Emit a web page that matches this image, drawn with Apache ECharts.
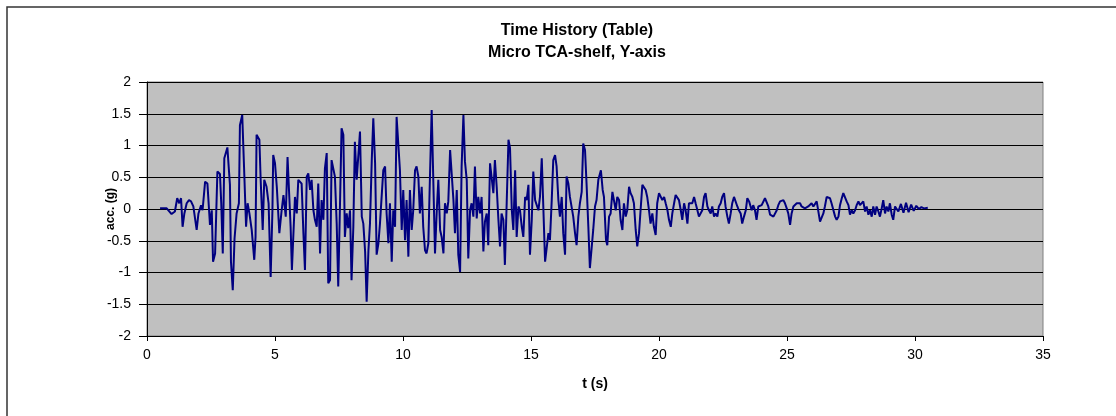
<!DOCTYPE html>
<html>
<head>
<meta charset="utf-8">
<script src="https://cdn.jsdelivr.net/npm/echarts@6/dist/echarts.min.js"></script>
<style>
html,body{margin:0;padding:0;background:#fff;}
#chart{width:1116px;height:416px;}
</style>
</head>
<body>
<div id="chart"></div>
<script>
var titleLines = ["Time History (Table)", "Micro TCA-shelf, Y-axis"];
var xAxisName = "t (s)";
var yAxisName = "acc. (g)";

var times = [
0.51,0.77,0.96,1.09,1.18,1.26,1.33,1.39,1.46,1.55,1.64,1.72,1.81,1.88,1.94,2.01,2.11,2.17,2.27,2.36,
2.46,2.53,2.58,2.66,2.75,2.85,2.90,2.96,3.02,3.14,3.19,3.24,3.28,3.35,3.42,3.50,3.59,3.63,3.72,3.79,
3.87,3.93,4.00,4.09,4.19,4.24,4.28,4.39,4.44,4.52,4.58,4.67,4.75,4.83,4.90,4.93,5.00,5.07,5.17,5.26,
5.33,5.42,5.49,5.55,5.61,5.66,
5.78,5.85,5.91,6.04,6.11,6.17,6.24,6.30,6.37,6.43,6.50,6.56,6.63,6.69,6.76,6.82,6.89,6.95,7.02,7.08,
7.15,7.21,7.28,7.34,7.41,7.47,7.54,7.60,7.67,7.73,7.80,7.86,7.93,7.99,8.06,8.12,8.19,8.26,8.32,8.39,
8.45,8.52,8.58,8.65,8.71,8.78,8.84,8.91,8.97,9.04,9.10,9.23,9.30,9.36,9.43,9.49,9.56,9.62,9.69,9.75,
9.82,9.88,9.95,10.01,10.08,10.14,10.21,10.27,10.34,10.40,10.47,10.53,10.60,10.66,10.73,10.79,10.86,10.92,10.99,11.05,
11.12,11.19,11.25,11.32,11.38,11.45,11.51,11.58,11.64,11.71,11.77,
11.84,11.90,11.97,12.03,12.10,12.16,12.23,12.29,12.36,12.42,12.49,12.55,12.62,12.68,12.75,12.81,12.88,12.94,13.01,13.07,
13.14,13.20,13.27,13.33,13.40,13.46,13.53,13.59,13.66,13.72,13.79,13.85,13.92,13.98,14.05,14.12,14.18,14.25,14.31,14.38,
14.44,14.51,14.57,14.64,14.70,14.77,14.83,14.90,14.96,15.03,15.09,15.16,15.22,15.29,15.35,15.42,15.48,15.55,15.61,15.68,
15.74,15.81,15.87,15.94,16.00,16.07,16.13,16.20,16.26,16.33,16.39,16.46,16.52,16.59,16.65,16.72,16.78,16.85,16.91,16.98,
17.04,17.11,17.17,17.24,17.30,17.37,17.43,17.50,17.56,17.63,
17.73,17.80,17.85,17.93,17.98,18.05,18.11,18.18,18.24,18.31,18.37,18.44,18.50,18.57,18.63,18.70,18.76,18.83,18.89,18.96,
19.02,19.09,19.15,19.22,19.28,19.35,19.41,19.48,19.54,19.61,19.67,19.74,19.80,19.87,19.93,20.00,20.07,20.13,20.20,20.26,
20.33,20.39,20.46,20.52,20.59,20.65,20.72,20.78,20.85,20.91,20.98,21.04,21.11,21.17,21.24,21.30,21.37,21.43,21.50,21.56,
21.63,21.69,21.76,21.82,21.89,21.95,22.02,22.08,22.15,22.21,22.28,22.34,22.41,22.47,22.54,22.60,22.67,22.73,22.80,22.86,
22.93,22.99,23.06,23.12,23.19,23.25,23.32,23.39,23.45,23.52,
23.55,23.62,23.68,23.75,23.81,23.88,23.95,24.01,24.08,24.14,24.21,24.27,24.34,24.40,24.47,24.53,24.60,24.66,24.73,24.79,
24.86,24.92,24.99,25.05,25.12,25.18,25.25,25.31,25.38,25.44,25.51,25.57,25.64,25.70,25.77,25.83,25.90,25.96,26.03,26.09,
26.16,26.22,26.29,26.35,26.42,26.48,26.55,26.61,26.68,26.74,26.81,26.88,26.94,27.01,27.07,27.14,27.20,27.27,27.33,27.40,
27.46,27.53,27.59,27.66,27.72,27.79,27.85,27.92,27.98,28.05,28.11,28.18,28.24,28.31,28.37,28.44,28.50,28.57,28.63,28.70,
28.76,28.83,28.89,28.96,29.02,29.09,29.15,29.22,29.28,29.35,
29.45,29.55,29.65,29.75,29.85,29.95,30.05,30.15,30.25,30.35,30.50
];

var accel = [
0.01,0.01,-0.08,-0.04,0.17,0.09,0.17,-0.28,-0.07,0.09,0.14,0.12,0.04,0.01,-0.33,-0.07,0.06,-0.02,0.43,0.40,
-0.25,-0.02,-0.83,-0.70,0.59,0.55,0.09,-0.70,0.80,0.97,0.67,0.38,-0.83,-1.28,-0.46,-0.07,0.09,1.32,1.48,0.67,
-0.28,0.09,-0.07,-0.33,-0.80,-0.44,1.17,1.09,0.46,-0.33,0.46,0.35,0.09,-1.07,-0.02,0.85,0.72,0.35,-0.38,-0.02,
0.22,-0.12,0.82,0.85,-0.28,-0.96,
0.19,-0.07,0.46,0.40,-0.38,-0.96,0.51,0.56,0.30,0.46,-0.02,-0.17,-0.28,0.40,-0.70,0.14,-0.17,0.64,0.88,-1.17,
-1.12,0.77,0.80,0.51,-0.23,-1.22,0.09,1.27,1.17,-0.44,-0.07,-0.30,-0.02,-1.12,-0.28,1.06,0.46,0.46,1.22,-0.12,
-0.23,-0.67,-1.46,-0.65,-0.23,0.77,1.43,0.72,-0.72,-0.54,-0.23,0.61,0.67,-0.07,-0.54,0.09,-0.83,-0.02,-0.28,1.45,
1.48,0.61,-0.33,0.30,-0.49,0.14,-0.75,0.30,-0.33,-0.02,0.61,0.67,0.51,-0.07,0.35,-0.28,-0.65,-0.70,-0.54,0.46,
1.56,1.59,-0.70,-0.02,0.46,-0.33,-0.44,-0.70,0.09,-0.07,0.12,
0.93,0.93,0.14,-0.38,0.30,-0.72,-0.99,0.67,1.48,0.75,0.46,-0.78,-0.02,0.09,-0.12,0.67,-0.15,0.19,-0.07,0.19,
-0.67,-0.20,-0.07,-0.57,0.72,0.69,0.25,0.77,0.35,-0.12,-0.59,-0.07,-0.17,-0.88,0.09,1.09,0.96,-0.02,-0.33,0.61,
-0.44,0.04,-0.02,-0.28,-0.44,0.19,0.14,0.38,-0.72,-0.17,0.59,0.14,0.14,-0.02,0.19,0.80,0.77,-0.83,-0.80,-0.38,
-0.49,0.14,0.77,0.85,0.67,0.14,-0.12,0.19,-0.38,-0.72,0.51,0.40,0.19,0.19,-0.12,-0.38,-0.57,-0.12,0.09,0.27,
1.03,0.93,0.40,-0.28,-0.93,-0.96,-0.33,0.04,0.14,0.46,
0.61,0.30,0.19,-0.49,-0.57,-0.12,-0.07,0.27,0.30,-0.02,0.19,0.14,-0.17,-0.33,0.09,-0.12,-0.02,0.35,0.25,0.19,
0.09,-0.33,-0.59,-0.38,-0.02,0.38,0.35,0.30,0.19,-0.02,-0.23,-0.07,-0.28,-0.41,0.09,0.25,0.27,0.14,0.19,0.09,
-0.02,-0.17,-0.28,-0.07,0.09,0.22,0.25,0.14,-0.02,-0.17,0.09,-0.02,-0.23,0.09,0.06,0.09,0.19,0.09,-0.02,-0.12,
-0.12,-0.02,0.19,0.25,0.04,-0.02,-0.07,0.04,-0.12,-0.07,-0.12,0.04,0.09,0.19,0.25,0.04,-0.12,-0.23,-0.07,0.09,
0.19,0.22,0.04,-0.02,-0.07,-0.23,-0.12,-0.02,0.17,0.12,
0.09,-0.02,0.06,-0.02,-0.17,0.04,0.04,0.06,0.09,0.17,0.20,0.04,-0.09,-0.12,-0.12,-0.09,-0.02,0.06,0.12,0.14,
0.14,0.09,0.01,-0.07,-0.25,-0.07,0.04,0.06,0.09,0.12,0.09,0.04,0.04,0.01,-0.02,0.04,0.04,0.09,0.04,0.06,
0.12,0.12,-0.20,-0.17,-0.07,0.04,0.19,0.22,0.17,0.09,0.06,-0.12,-0.17,-0.12,0.06,0.17,0.25,0.22,0.12,0.06,
-0.09,-0.02,-0.07,-0.02,0.06,0.12,0.06,0.09,0.12,-0.04,0.04,-0.09,-0.02,-0.12,0.04,-0.09,0.04,-0.04,-0.12,0.01,
0.14,-0.07,0.04,-0.04,0.09,-0.09,-0.17,0.04,0.06,-0.04,
0.08,-0.06,0.10,-0.05,0.07,-0.03,0.05,0.00,0.03,0.01,0.02
];

var xTicks = {min: 0, max: 35, interval: 5};
var yTicks = {min: -2, max: 2, interval: 0.5};

var seriesData = times.map(function (t, i) { return [t, accel[i]]; });

var chart = echarts.init(document.getElementById('chart'), null, {renderer: 'canvas'});
var font = '"Liberation Sans", Arial, sans-serif';
chart.setOption({
  backgroundColor: '#ffffff',
  animation: false,
  graphic: [
    {type: 'rect', shape: {x: 7, y: 7, width: 1130, height: 430},
     style: {fill: 'none', stroke: '#333333', lineWidth: 1.5}, silent: true, z: -10},
    {type: 'text', x: 577, y: 31, silent: true,
     style: {text: titleLines[0], textAlign: 'center', textVerticalAlign: 'middle',
             font: 'bold 16px ' + font, fill: '#000'}},
    {type: 'text', x: 577, y: 53, silent: true,
     style: {text: titleLines[1], textAlign: 'center', textVerticalAlign: 'middle',
             font: 'bold 16px ' + font, fill: '#000'}}
  ],
  grid: {left: 147, top: 82, width: 896, height: 254, show: true, backgroundColor: '#C0C0C0',
         borderColor: '#808080', borderWidth: 1, containLabel: false},
  xAxis: {
    type: 'value', min: xTicks.min, max: xTicks.max, interval: xTicks.interval,
    name: xAxisName, nameLocation: 'middle', nameGap: 41,
    nameTextStyle: {fontFamily: font, fontWeight: 'bold', fontSize: 14, color: '#000'},
    axisLine: {show: true, onZero: false, lineStyle: {color: '#000', width: 1}},
    axisTick: {show: true, length: 5, lineStyle: {color: '#000'}},
    axisLabel: {fontFamily: font, fontSize: 14, color: '#000', margin: 12},
    splitLine: {show: false}
  },
  yAxis: {
    type: 'value', min: yTicks.min, max: yTicks.max, interval: yTicks.interval,
    name: yAxisName, nameLocation: 'middle', nameGap: 30, nameRotate: 90, nameMoveOverlap: false,
    nameTextStyle: {fontFamily: font, fontWeight: 'bold', fontSize: 12, color: '#000'},
    axisLine: {show: true, onZero: false, lineStyle: {color: '#000', width: 1}},
    axisTick: {show: true, length: 8, lineStyle: {color: '#000'}},
    axisLabel: {fontFamily: font, fontSize: 14, color: '#000', margin: 16},
    splitLine: {show: true, lineStyle: {color: '#000', width: 1}}
  },
  series: [{
    type: 'line', data: seriesData, showSymbol: false, symbol: 'none',
    lineStyle: {color: '#000080', width: 2}, clip: true
  }]
});
</script>
</body>
</html>
